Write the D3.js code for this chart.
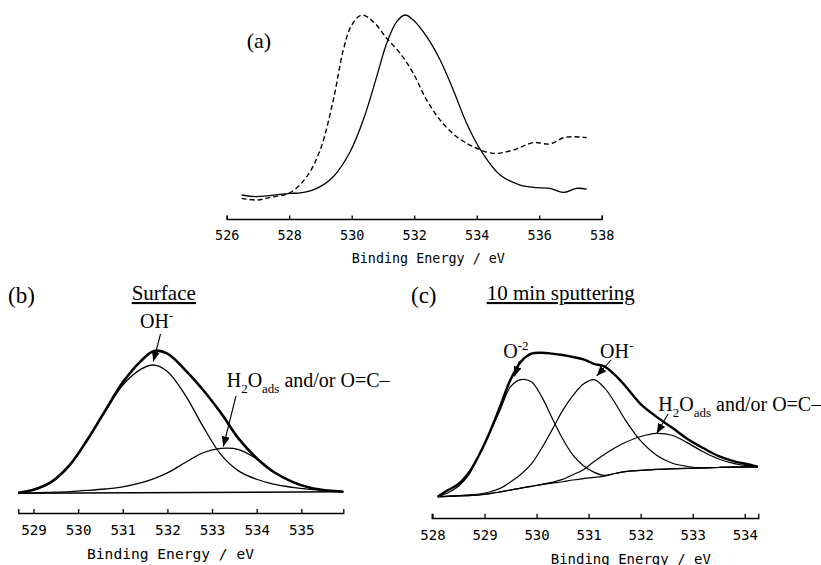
<!DOCTYPE html>
<html>
<head>
<meta charset="utf-8">
<script src="https://cdn.jsdelivr.net/npm/d3@7"></script>
<style>
  body { margin: 0; background: #fff; }
  svg { display: block; }
  .axis text { font-family: "DejaVu Sans Mono", monospace; fill: #000; }
  .lbl { font-family: "Liberation Serif", "Times New Roman", serif; fill: #000; }
  .curve { fill: none; stroke: #000; }
</style>
</head>
<body>
<div id="chart"></div>
<script>
// ---- panel (a): O 1s spectra (eV, relative counts)
const aTicks = [526, 528, 530, 532, 534, 536, 538];
const aSolidEnergy = [526.48, 526.96, 528.03, 528.35, 528.88, 529.41, 529.95, 530.37, 530.8, 531.12, 531.44, 531.71, 531.97, 532.4, 532.83, 533.25, 533.68, 534.16, 534.75, 535.39, 535.92, 536.35, 536.77, 537.2, 537.52];
const aSolidCounts = [2.7, 1.8, 3.6, 3.8, 6.3, 12.6, 26.1, 43.2, 66.7, 84.7, 96.4, 100, 97.3, 88.3, 75.7, 59.5, 41.4, 26.1, 13.5, 8.1, 6.7, 6.3, 4.1, 6.3, 5.9];
const aDashEnergy = [526.48, 526.96, 527.39, 528.03, 528.56, 528.99, 529.41, 529.73, 530.0, 530.32, 530.69, 531.12, 531.55, 531.97, 532.4, 532.83, 533.36, 533.89, 534.53, 535.17, 535.81, 536.35, 536.83, 537.52];
const aDashCounts = [0.9, 0, 1.4, 4, 12.6, 27, 54, 81, 94.6, 100, 96.4, 87.4, 79.3, 68.5, 54, 43.2, 34.2, 28.8, 25.2, 27, 31, 30.3, 33.9, 33.7];

// ---- panel (b): Surface
const bTicks = [529, 530, 531, 532, 533, 534, 535];
const bEnergy = [528.66, 529.0, 529.4, 529.8, 530.2, 530.6, 531.0, 531.4, 531.7, 532.0, 532.4, 532.8, 533.2, 533.6, 534.0, 534.4, 534.8, 535.2, 535.6, 535.94];
const bEnvelope = [0.3, 2.5, 8, 19.3, 37, 57.3, 77.4, 92.1, 99.3, 97.5, 86, 72.1, 56, 38, 24.5, 14.5, 8, 3.8, 1.9, 1.1];
const bOH = [0.3, 2.5, 7.5, 19, 37, 57, 75.5, 86.5, 89.5, 85, 68.5, 46.5, 27, 15.5, 9.8, 6.2, 4.2, 2.8, 1.8, 1.1];
const bH2O = [0, 0.3, 0.7, 1.2, 2, 3, 4.5, 7.2, 10.2, 14.2, 21.5, 28.3, 31.3, 30.5, 24, 14.5, 8, 3.8, 1.9, 1.1];
const bBaseEnergy = [528.66, 535.94];
const bBaseline = [0, 1.1];

// ---- panel (c): 10 min sputtering
const cTicks = [528, 529, 530, 531, 532, 533, 534];
const cEnergy = [528.1, 528.3, 528.5, 528.7, 528.9, 529.1, 529.3, 529.5, 529.7, 529.9, 530.1, 530.3, 530.5, 530.7, 530.9, 531.1, 531.3, 531.5, 531.7, 532.0, 532.3, 532.6, 532.9, 533.2, 533.5, 533.8, 534.1, 534.25];
const cEnvelope = [0.2, 4.8, 9, 17, 29.5, 45, 63, 81.5, 94, 99.5, 100.2, 99.6, 98.6, 97.2, 95.5, 92.5, 90.7, 85, 77.3, 64.5, 55.8, 48.2, 40.3, 34, 28.4, 24.8, 22.4, 21];
const cO2 = [0.2, 3, 7.5, 15.5, 29.5, 44.5, 60.5, 76.6, 81.5, 80, 69.5, 54.7, 40.5, 29, 21.7, 17.3, 15, 16.3, 17.6, 18.5, 19.2, 19.6, 19.9, 20.2, 20.5, 20.7, 20.9, 21];
const cOH = [0.2, 0.6, 1, 1.5, 2.1, 3.5, 6, 10.5, 15.8, 23, 34, 46.8, 60, 70.5, 78.4, 81.5, 76, 65.8, 53.8, 39, 29.2, 23.6, 21.2, 20.2, 20.5, 20.7, 20.9, 21];
const cH2O = [0.2, 0.4, 0.7, 1, 1.4, 2.3, 3.5, 4.8, 6.2, 7.4, 8.8, 10.2, 12.2, 15.5, 19, 24.5, 29.5, 34, 37.8, 42, 44.2, 42.9, 37.6, 31.4, 26.4, 23.2, 21.5, 21];
const cBaseline = [0.2, 0.4, 0.7, 1, 1.4, 2.3, 3.5, 4.8, 6.2, 7.4, 8.6, 9.6, 10.6, 11.8, 12.8, 13.6, 14.5, 16.3, 17.6, 18.5, 19.2, 19.6, 19.9, 20.2, 20.5, 20.7, 20.9, 21];

const svg = d3.select("#chart").append("svg")
  .attr("width", 821)
  .attr("height", 565);

// arrowhead marker used by the peak labels
svg.append("defs").append("marker")
  .attr("id", "head")
  .attr("markerUnits", "userSpaceOnUse")
  .attr("viewBox", "0 0 10 8")
  .attr("refX", 10).attr("refY", 4)
  .attr("markerWidth", 10).attr("markerHeight", 8)
  .attr("orient", "auto")
  .append("path").attr("d", "M0,0L10,4L0,8Z").attr("fill", "#000");

function makePanel(p) {
  const x = d3.scaleLinear().domain(p.domain).range(p.xRange);
  const y = d3.scaleLinear().domain([0, 100]).range(p.yRange);

  // ticks point up, numbers sit below the line
  const axis = d3.axisBottom(x)
    .tickValues(p.ticks)
    .tickFormat(d3.format("d"))
    .tickSize(-p.tick)
    .tickSizeOuter(-p.tick)
    .tickPadding(p.pad);

  const g = svg.append("g")
    .attr("class", "axis")
    .attr("transform", `translate(0,${p.axisY})`)
    .call(axis);
  g.selectAll("text").style("font-size", p.fs + "px");
  g.select(".domain").attr("stroke-width", 1.3);
  g.selectAll(".tick line").attr("stroke-width", 1.3);

  svg.append("text")
    .attr("class", "axis")
    .attr("x", p.titleX)
    .attr("y", p.titleY)
    .attr("text-anchor", "middle")
    .style("font-family", "'DejaVu Sans Mono', monospace")
    .style("font-size", p.titleFs + "px")
    .text("Binding Energy / eV");

  return { x, y };
}

function drawCurve(sc, energy, counts, width, dash) {
  const line = d3.line()
    .x((d, i) => sc.x(energy[i]))
    .y(d => sc.y(d))
    .curve(d3.curveCatmullRom.alpha(0.5));
  svg.append("path")
    .datum(counts)
    .attr("class", "curve")
    .attr("d", line)
    .attr("stroke-width", width)
    .attr("stroke-linejoin", "round")
    .attr("stroke-dasharray", dash || null);
}

function label(x, y, size, parts) {
  // parts: [text, shift] where shift = 0 normal, 1 subscript, -1 superscript
  const t = svg.append("text").attr("class", "lbl")
    .attr("x", x).attr("y", y).style("font-size", size + "px");
  let cur = 0;
  parts.forEach(([s, shift]) => {
    const target = shift === 1 ? size * 0.3 : shift === -1 ? -size * 0.4 : 0;
    t.append("tspan")
      .attr("dy", target - cur)
      .style("font-size", shift ? (size * 0.65) + "px" : null)
      .text(s);
    cur = target;
  });
  return t;
}

function arrow(x1, y1, x2, y2) {
  svg.append("line")
    .attr("x1", x1).attr("y1", y1).attr("x2", x2).attr("y2", y2)
    .attr("stroke", "#000").attr("stroke-width", 1.1)
    .attr("marker-end", "url(#head)");
}

// ---- (a)
const A = makePanel({
  domain: [526, 538], xRange: [226.7, 601.7], yRange: [200, 15],
  ticks: aTicks, axisY: 219, tick: 3.5, pad: 11, fs: 13.4,
  titleX: 428.3, titleY: 263, titleFs: 13.4
});
drawCurve(A, aDashEnergy, aDashCounts, 1.4, "5,3");
drawCurve(A, aSolidEnergy, aSolidCounts, 1.3);
label(246.7, 48, 22, [["(a)", 0]]);

// ---- (b)
const B = makePanel({
  domain: [528.66, 535.94], xRange: [18.3, 343.3], yRange: [493.3, 350],
  ticks: bTicks, axisY: 513, tick: 4, pad: 12, fs: 14.2,
  titleX: 170.5, titleY: 558.5, titleFs: 14.6
});
drawCurve(B, bBaseEnergy, bBaseline, 1.5);
drawCurve(B, bEnergy, bH2O, 1.3);
drawCurve(B, bEnergy, bOH, 1.3);
drawCurve(B, bEnergy, bEnvelope, 2.6);
label(8, 303, 23, [["(b)", 0]]);
label(131.7, 300, 21, [["Surface", 0]]).style("text-decoration", "underline");
label(140, 328.3, 20, [["OH", 0], ["-", -1]]);
arrow(160.5, 334, 153.3, 361.5);
label(226.7, 386.7, 20, [["H", 0], ["2", 1], ["O", 0], ["ads", 1], [" and/or O=C\u2013", 0]]);
arrow(236, 396, 223.3, 446.5);

// ---- (c)
const C = makePanel({
  domain: [527.985, 534.26], xRange: [431.7, 758.3], yRange: [497, 353],
  ticks: cTicks, axisY: 518, tick: 4.3, pad: 12, fs: 14,
  titleX: 630.8, titleY: 563.5, titleFs: 14
});
drawCurve(C, cEnergy, cBaseline, 1.2);
drawCurve(C, cEnergy, cH2O, 1.2);
drawCurve(C, cEnergy, cOH, 1.2);
drawCurve(C, cEnergy, cO2, 1.2);
drawCurve(C, cEnergy, cEnvelope, 2.4);
label(411, 303, 23, [["(c)", 0]]);
label(486.7, 300, 21, [["10 min sputtering", 0]]).style("text-decoration", "underline");
label(503.3, 358.3, 20, [["O", 0], ["-2", -1]]);
arrow(519.5, 361, 514.5, 376.5);
label(600, 358.3, 20, [["OH", 0], ["-", -1]]);
arrow(611, 360, 596.7, 376);
label(658.3, 410.7, 20, [["H", 0], ["2", 1], ["O", 0], ["ads", 1], [" and/or O=C\u2013", 0]]);
arrow(668, 414, 656.7, 433.5);
</script>
</body>
</html>
